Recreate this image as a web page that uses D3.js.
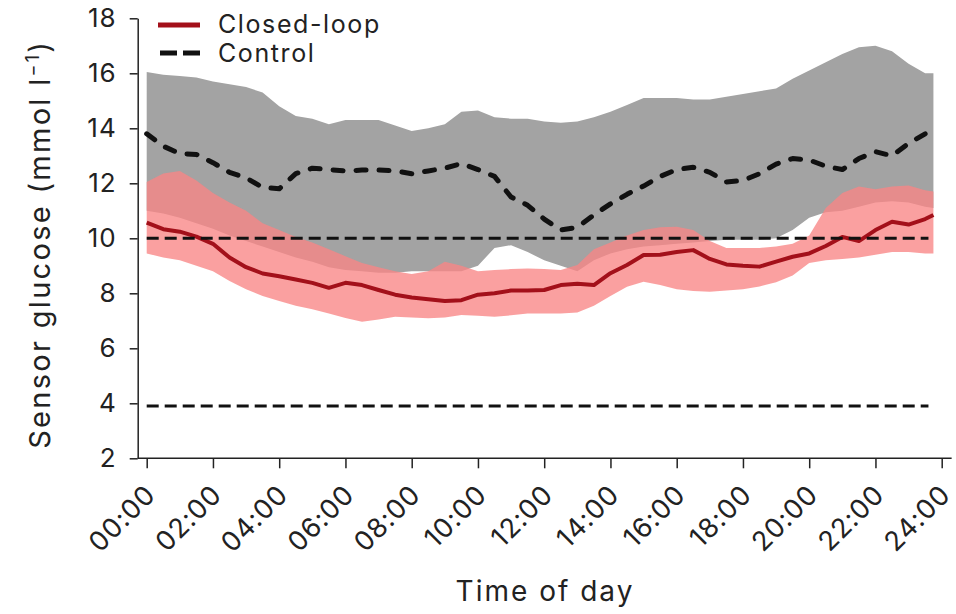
<!DOCTYPE html>
<html>
<head>
<meta charset="utf-8">
<script src="https://cdn.jsdelivr.net/npm/d3@7"></script>
<style>
  body { margin: 0; background: #fff; }
  svg { display: block; }
  text { font-family: Inter, "Noto Sans", sans-serif; fill: #222; }
</style>
</head>
<body>
<svg id="chart" width="956" height="614"></svg>
<script>
// Time of day (hours) for each summary point
const hours = [0, 0.5, 1, 1.5, 2, 2.5, 3, 3.5, 4, 4.5, 5, 5.5, 6, 6.5, 7, 7.5,
  8, 8.5, 9, 9.5, 10, 10.5, 11, 11.5, 12, 12.5, 13, 13.5, 14, 14.5, 15, 15.5,
  16, 16.5, 17, 17.5, 18, 18.5, 19, 19.5, 20, 20.5, 21, 21.5, 22, 22.5, 23, 23.5, 23.75];

// Control: median and interquartile range (mmol/l)
const controlMedian = [13.8, 13.35, 13.08, 13.05, 12.75, 12.4, 12.2, 11.85, 11.8, 12.35, 12.55, 12.5,
  12.45, 12.48, 12.48, 12.45, 12.35, 12.45, 12.55, 12.72, 12.5, 12.25, 11.5, 11.2,
  10.7, 10.3, 10.4, 10.85, 11.25, 11.6, 11.9, 12.25, 12.5, 12.58, 12.4, 12.05,
  12.1, 12.35, 12.7, 12.9, 12.85, 12.62, 12.5, 12.9, 13.15, 13.0, 13.45, 13.8, 13.7];
const controlUpper = [16.05, 15.95, 15.9, 15.85, 15.7, 15.6, 15.5, 15.3, 14.8, 14.45, 14.35, 14.15,
  14.3, 14.3, 14.3, 14.1, 13.9, 14.0, 14.15, 14.6, 14.65, 14.4, 14.35, 14.35,
  14.25, 14.2, 14.25, 14.4, 14.6, 14.85, 15.1, 15.1, 15.1, 15.05, 15.05, 15.15,
  15.25, 15.35, 15.45, 15.8, 16.1, 16.4, 16.7, 16.95, 17.0, 16.8, 16.35, 16.0, 16.0];
const controlLower = [11.0, 10.9, 10.75, 10.55, 10.35, 10.1, 9.9, 9.7, 9.5, 9.3, 9.15, 8.95,
  8.85, 8.8, 8.75, 8.75, 8.8, 8.8, 8.8, 8.8, 9.0, 9.65, 9.75, 9.5,
  9.2, 9.0, 8.8, 9.2, 9.45, 9.6, 9.7, 9.75, 9.8, 9.85, 9.9, 9.95,
  9.95, 9.95, 10.0, 10.3, 10.75, 10.95, 11.0, 11.15, 11.3, 11.35, 11.3, 11.15, 11.1];

// Closed-loop: median and interquartile range (mmol/l)
const closedMedian = [10.57, 10.33, 10.24, 10.06, 9.8, 9.3, 8.95, 8.72, 8.62, 8.5, 8.38, 8.2,
  8.38, 8.3, 8.12, 7.95, 7.85, 7.78, 7.72, 7.75, 7.95, 8.0, 8.1, 8.1,
  8.12, 8.3, 8.35, 8.3, 8.73, 9.03, 9.39, 9.4, 9.5, 9.57, 9.25, 9.05,
  9.0, 8.97, 9.15, 9.33, 9.45, 9.72, 10.05, 9.9, 10.3, 10.6, 10.5, 10.7, 10.85];
const closedUpper = [12.05, 12.36, 12.45, 12.1, 11.65, 11.3, 11.0, 10.55, 10.3, 10.05, 9.85, 9.6,
  9.35, 9.1, 8.95, 8.8, 8.7, 8.8, 9.15, 9.0, 8.8, 8.85, 8.88, 8.9,
  8.88, 8.85, 9.03, 9.6, 9.85, 10.1, 10.3, 10.4, 10.42, 10.3, 9.9, 9.65,
  9.65, 9.65, 9.7, 9.8, 10.1, 11.1, 11.65, 11.88, 11.78, 11.88, 11.92, 11.75, 11.7];
const closedLower = [9.45, 9.3, 9.2, 9.0, 8.8, 8.45, 8.15, 7.9, 7.72, 7.55, 7.42, 7.27,
  7.1, 6.97, 7.05, 7.15, 7.12, 7.09, 7.12, 7.21, 7.18, 7.15, 7.2, 7.27,
  7.27, 7.27, 7.3, 7.55, 7.9, 8.24, 8.42, 8.3, 8.15, 8.08, 8.06, 8.1,
  8.15, 8.25, 8.4, 8.65, 9.1, 9.2, 9.25, 9.3, 9.4, 9.5, 9.5, 9.45, 9.45];

// Target range limits (mmol/l)
const targetLimits = [3.9, 10];

// Axis ticks
const xTickHours = [0, 2, 4, 6, 8, 10, 12, 14, 16, 18, 20, 22, 24];
const xTickLabels = ["00:00", "02:00", "04:00", "06:00", "08:00", "10:00", "12:00",
  "14:00", "16:00", "18:00", "20:00", "22:00", "24:00"];
const yTicks = [2, 4, 6, 8, 10, 12, 14, 16, 18];

const svg = d3.select("#chart");
const axisX = 137.7;
const x = d3.scaleLinear().domain([0, 24]).range([146.7, 941.7]);
const y = d3.scaleLinear().domain([2, 18]).range([458.3, 18.3]);

const rows = hours.map((h, i) => ({
  h,
  cMed: controlMedian[i], cUp: controlUpper[i], cLo: controlLower[i],
  lMed: closedMedian[i], lUp: closedUpper[i], lLo: closedLower[i]
}));

// Interquartile bands
const bandControl = d3.area().x(d => x(d.h)).y0(d => y(d.cLo)).y1(d => y(d.cUp));
const bandClosed = d3.area().x(d => x(d.h)).y0(d => y(d.lLo)).y1(d => y(d.lUp));

svg.append("path").datum(rows).attr("d", bandControl).attr("fill", "#a3a3a3");
svg.append("path").datum(rows).attr("d", bandClosed)
  .attr("fill", "rgb(249,133,133)").attr("fill-opacity", 0.78);

// Closed-loop median
svg.append("path").datum(rows)
  .attr("d", d3.line().x(d => x(d.h)).y(d => y(d.lMed)))
  .attr("fill", "none").attr("stroke", "#a3101a").attr("stroke-width", 4)
  .attr("stroke-linejoin", "round");

// Target range lines
svg.selectAll("line.target").data(targetLimits).join("line")
  .attr("class", "target")
  .attr("x1", x(0)).attr("x2", x(23.6))
  .attr("y1", d => y(d)).attr("y2", d => y(d))
  .attr("stroke", "#111").attr("stroke-width", 3).attr("stroke-dasharray", "12,6");

// Control median
svg.append("path").datum(rows)
  .attr("d", d3.line().x(d => x(d.h)).y(d => y(d.cMed)))
  .attr("fill", "none").attr("stroke", "#111").attr("stroke-width", 5)
  .attr("stroke-linecap", "round").attr("stroke-linejoin", "round")
  .attr("stroke-dasharray", "10,13");

// Y axis
const gy = svg.append("g").attr("transform", `translate(${axisX},0)`)
  .call(d3.axisLeft(y).tickValues(yTicks).tickSize(8).tickSizeOuter(0).tickPadding(13)
    .tickFormat(d3.format("d")));
gy.selectAll("path, line").attr("stroke", "#222").attr("stroke-width", 1.5);
gy.selectAll("text").style("font-size", "26px").style("letter-spacing", "1px").attr("fill", "#222");

// X axis
const gx = svg.append("g").attr("transform", `translate(0,${y(2)})`)
  .call(d3.axisBottom(x).tickValues(xTickHours).tickSize(10).tickSizeOuter(0)
    .tickFormat((d, i) => xTickLabels[i]));
gx.select(".domain").remove();
gx.append("line").attr("x1", axisX).attr("x2", x(24.3)).attr("y1", 0).attr("y2", 0)
  .attr("stroke", "#222").attr("stroke-width", 1.5);
gx.selectAll(".tick line").attr("stroke", "#222").attr("stroke-width", 1.5);
gx.selectAll(".tick text")
  .style("font-size", "27px").style("letter-spacing", "1px").attr("fill", "#222")
  .attr("text-anchor", "end")
  .attr("y", 0).attr("dy", 0)
  .attr("transform", "translate(10,38) rotate(-45)");

// Axis titles
svg.append("text")
  .attr("transform", `translate(50,${(y(2) + y(18)) / 2 + 6}) rotate(-90)`)
  .attr("text-anchor", "middle")
  .style("font-size", "29px").style("letter-spacing", "2.3px")
  .call(t => {
    t.append("tspan").text("Sensor glucose (mmol l");
    t.append("tspan").attr("dy", -11).style("font-size", "18px").text("\u22121");
    t.append("tspan").attr("dy", 11).text(")");
  });

svg.append("text")
  .attr("x", 545).attr("y", 601)
  .attr("text-anchor", "middle")
  .style("font-size", "28px").style("letter-spacing", "2px")
  .text("Time of day");

// Legend
const legend = svg.append("g");
legend.append("line").attr("x1", 158).attr("x2", 200).attr("y1", 25).attr("y2", 25)
  .attr("stroke", "#a3101a").attr("stroke-width", 5);
legend.append("line").attr("x1", 160).attr("x2", 200).attr("y1", 53).attr("y2", 53)
  .attr("stroke", "#111").attr("stroke-width", 5).attr("stroke-dasharray", "17,6");
legend.append("text").attr("x", 218).attr("y", 33)
  .style("font-size", "25px").style("letter-spacing", "1.6px").text("Closed-loop");
legend.append("text").attr("x", 218).attr("y", 62)
  .style("font-size", "25px").style("letter-spacing", "1.6px").text("Control");
</script>
</body>
</html>
